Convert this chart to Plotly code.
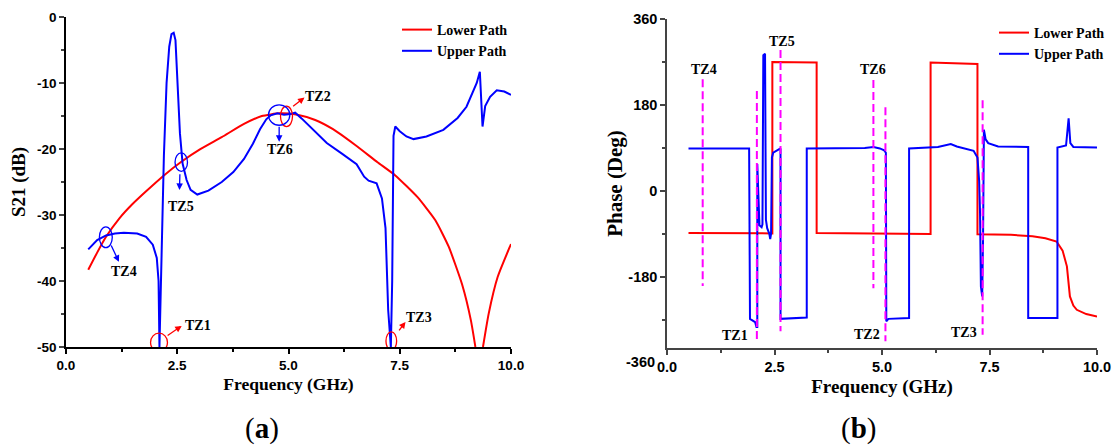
import plotly.graph_objects as go

# ---------------- Panel (a): S21 magnitude (dB) ----------------
freq_lower_a = [0.5, 0.7, 0.9, 1.2, 1.5, 1.8, 2.2, 2.6, 3.0, 3.5, 4.0, 4.4, 4.8, 5.2, 5.6,
                6.0, 6.5, 7.0, 7.4, 7.9, 8.3, 8.6, 8.9, 9.1, 9.2,
                None, 9.37, 9.5, 9.7, 10.0]
s21_lower = [-38.3, -35.7, -33.3, -30.5, -28.3, -26.4, -24.0, -21.9, -20.1, -18.2, -16.2, -15.0,
             -14.6, -14.8, -15.6, -17.0, -19.4, -22.0, -24.0, -27.3, -30.8, -34.8, -40.5, -46.0, -50.0,
             None, -50.0, -44.9, -39.4, -34.4]

freq_upper_a = [0.5, 0.7, 0.9, 1.1, 1.3, 1.6, 1.8, 1.95, 2.04, 2.08, 2.1, 2.13, 2.16, 2.2, 2.26,
                2.32, 2.37, 2.42, 2.46, 2.51, 2.56, 2.62, 2.71, 2.8, 2.95, 3.2, 3.5, 3.76, 4.0,
                4.2, 4.36, 4.5, 4.6, 4.75, 4.9, 5.05, 5.15, 5.3, 5.6, 5.86, 6.2, 6.53, 6.7, 6.8,
                6.98, 7.1, 7.18, 7.24, 7.3, 7.33, 7.36, 7.4, 7.5, 7.65, 7.81, 8.1, 8.48, 8.8,
                9.0, 9.23, 9.3, 9.33, 9.36, 9.42, 9.53, 9.68, 9.85, 10.0]
s21_upper = [-35.2, -33.8, -33.1, -32.8, -32.7, -32.8, -33.3, -34.5, -36.5, -40.0, -50.0, -40.0,
             -31.0, -21.0, -10.0, -4.5, -2.6, -2.4, -3.5, -10.0, -17.6, -22.2, -24.7, -26.2,
             -26.9, -26.3, -25.0, -23.5, -21.5, -19.2, -17.0, -15.5, -14.9, -14.6, -14.8, -14.7,
             -14.5, -15.4, -17.3, -19.1, -20.7, -22.3, -24.2, -24.8, -25.2, -27.5, -32.0, -44.4,
             -50.0, -40.0, -18.0, -16.6, -17.3, -18.1, -18.5, -18.1, -17.1, -15.3, -13.6, -10.0,
             -8.3, -12.0, -16.6, -13.5, -12.1, -11.1, -11.3, -11.8]

s21_tickvals = [0, -10, -20, -30, -40, -50]
s21_ticktext = ["0", "-10", "-20", "-30", "-40", "-50"]

# ---------------- Panel (b): phase (Deg) ----------------
freq_lower_b = [0.5, 2.45, 2.45, 3.48, 3.48, 5.0, 6.13, 6.13, 7.22, 7.22, 8.0, 8.5, 8.8, 9.06,
                9.2, 9.3, 9.37, 9.45, 9.53, 9.75, 10.0]
phase_lower = [-88, -89, 270, 269, -88, -89, -90, 269, 266, -91, -92, -95, -99, -106,
               -125, -158, -221, -240, -249, -258, -263]

freq_upper_b = [0.5, 1.91, 1.93, 2.05, 2.08, 2.10, 2.10, 2.13, 2.15, 2.20, 2.22, 2.24, 2.28,
                2.30, 2.33, 2.38, 2.40, 2.42, 2.44, 2.47, 2.55, 2.62, 2.64, 2.64, 3.25, 3.25,
                4.6, 4.8, 4.95, 5.05, 5.09, 5.10, 5.15, 5.63, 5.63, 6.3, 6.5, 6.6, 6.74, 7.0,
                7.13, 7.22, 7.26, 7.28, 7.30, 7.33, 7.35, 7.37, 7.41, 7.47, 7.7, 8.4, 8.4,
                9.08, 9.08, 9.28, 9.34, 9.38, 9.45, 10.0]
phase_upper = [89, 89, -268, -275, -285, -285, 56, -55, -72, -76, -70, 284, 287,
               -60, -78, -90, -101, -90, 70, 80, 85, 89, 89, -268, -265, 89,
               90, 92, 89, 85, 80, -273, -268, -266, 89, 92, 96, 98, 93, 88,
               84, 70, 20, -46, -200, -221, -100, 128, 108, 100, 93, 92, -266,
               -266, 91, 95, 152, 100, 92, 91]

phase_tickvals = [360, 180, 0, -180]
phase_ticktext = ["360", "180", "0", "-180"]

# transmission-zero marker lines in panel (b)
tz_line_freq = [0.83, 2.09, 2.64, 4.80, 5.08, 7.34]
tz_line_top = [234, 209, 295, 232, 175, 190]
tz_line_bottom = [-199, -312, -294, -204, -315, -301]

RED = "#ff0000"
BLUE = "#0000ff"
MAGENTA = "#ff00ff"
SERIF = "Liberation Serif"
SANS = "Liberation Sans"

# The page body has an 8 px margin; the figure is 8 px smaller so it fills the window.
W, H = 1112, 440
ML, MR, MT, MB = 58, 23, 9, 100
PW = W - ML - MR   # 1031
PH = H - MT - MB   # 331
OFF = 8

def px_x(p):   # reference pixel x -> paper x
    return (p - OFF - ML) / PW

def px_y(p):   # reference pixel y -> paper y
    return (H - MB - (p - OFF)) / PH

fig = go.Figure()

fig.add_trace(go.Scatter(x=freq_lower_a, y=s21_lower, mode="lines", name="Lower Path",
                         line=dict(color=RED, width=2, shape="spline", smoothing=0.5),
                         legend="legend"))
fig.add_trace(go.Scatter(x=freq_upper_a, y=s21_upper, mode="lines", name="Upper Path",
                         line=dict(color=BLUE, width=2), legend="legend"))

fig.add_trace(go.Scatter(x=freq_lower_b, y=phase_lower, mode="lines", name="Lower Path",
                         line=dict(color=RED, width=2), xaxis="x2", yaxis="y2", legend="legend2"))
fig.add_trace(go.Scatter(x=freq_upper_b, y=phase_upper, mode="lines", name="Upper Path",
                         line=dict(color=BLUE, width=2), xaxis="x2", yaxis="y2", legend="legend2"))

dx, dy = [], []
for f, t, b in zip(tz_line_freq, tz_line_top, tz_line_bottom):
    dx += [f, f, None]
    dy += [t, b, None]
fig.add_trace(go.Scatter(x=dx, y=dy, mode="lines", showlegend=False,
                         line=dict(color=MAGENTA, width=2, dash="8px,4px"),
                         xaxis="x2", yaxis="y2", hoverinfo="skip"))

tickfont_a = dict(family=SANS, size=13.5, color="black", weight="bold")
tickfont_b = dict(family=SANS, size=14.5, color="black", weight="bold")

def tfont(size):
    return dict(family=SERIF, size=size, color="black", weight="bold")

def xaxis_cfg(domain, anchor, linecolor, tickfont, titlesize):
    return dict(domain=domain, anchor=anchor, range=[0, 10], dtick=2.5, tick0=0, tickformat=".1f",
                showgrid=False, zeroline=False, showline=True, linecolor=linecolor, linewidth=1.5,
                ticks="outside", ticklen=5, tickwidth=1.5, tickcolor=linecolor, tickfont=tickfont,
                minor=dict(ticks="outside", ticklen=3, dtick=1.25, tickcolor=linecolor, tickwidth=1.5),
                title=dict(text="Frequency (GHz)", font=tfont(titlesize), standoff=6))

fig.update_layout(
    width=W, height=H,
    margin=dict(l=ML, r=MR, t=MT, b=MB, autoexpand=False),
    paper_bgcolor="white", plot_bgcolor="white",
    xaxis=xaxis_cfg([0, 445 / PW], "y", "black", tickfont_a, 17.5),
    yaxis=dict(domain=[1 / PH, 1.0], anchor="x", range=[-50, 0],
               tickvals=s21_tickvals, ticktext=s21_ticktext,
               showgrid=False, zeroline=False, showline=True, linecolor="black", linewidth=1.5,
               ticks="outside", ticklen=5, tickwidth=1.5, tickfont=tickfont_a,
               minor=dict(ticks="outside", ticklen=3, dtick=5, tick0=0, tickwidth=1.5),
               title=dict(text="S21 (dB)", font=tfont(19), standoff=11)),
    xaxis2=xaxis_cfg([601 / PW, 1.0], "y2", "#444444", tickfont_b, 19),
    yaxis2=dict(domain=[0.0, 329 / PH], anchor="x2", range=[-329, 360],
                tickvals=phase_tickvals, ticktext=phase_ticktext,
                showgrid=False, zeroline=False, showline=True, linecolor="#444444", linewidth=1.5,
                ticks="outside", ticklen=5, tickwidth=1.5, tickcolor="#444444", tickfont=tickfont_b,
                minor=dict(ticks="outside", ticklen=3, tickvals=[270, 90, -90, -270],
                           tickcolor="#444444", tickwidth=1.5),
                title=dict(text="Phase (Deg)", font=tfont(21), standoff=0)),
    legend=dict(xref="paper", yref="paper", x=px_x(397), y=px_y(14),
                xanchor="left", yanchor="top", bgcolor="rgba(0,0,0,0)",
                font=dict(family=SERIF, size=14, color="black", weight="bold"),
                tracegroupgap=0, itemwidth=30),
    legend2=dict(xref="paper", yref="paper", x=px_x(994), y=px_y(17),
                 xanchor="left", yanchor="top", bgcolor="rgba(0,0,0,0)",
                 font=dict(family=SERIF, size=14, color="black", weight="bold"),
                 tracegroupgap=0, itemwidth=30),
)

labfont = dict(family=SERIF, size=14, color="black", weight="bold")
annotations = []
shapes = []

# Panel (a) ellipses: (x0, x1, y0, y1, color)
ellipses_a = [
    (1.90, 2.28, -50.7, -47.9, RED),     # TZ1
    (7.19, 7.43, -50.5, -47.7, RED),     # TZ3
    (4.82, 5.09, -16.6, -13.5, RED),     # TZ2
    (4.55, 5.03, -16.4, -13.3, BLUE),    # TZ6
    (2.45, 2.73, -23.4, -20.6, BLUE),    # TZ5
    (0.75, 1.04, -34.95, -31.8, BLUE),   # TZ4
]
for x0, x1, y0, y1, c in ellipses_a:
    shapes.append(dict(type="circle", xref="x", yref="y", x0=x0, x1=x1, y0=y0, y1=y1,
                       line=dict(color=c, width=1.3)))

# arrows panel (a): head (x,y), tail (ax, ay), color
arrows_a = [
    (2.60, -46.8, 2.25, -48.4, RED),
    (7.63, -46.2, 7.46, -47.7, RED),
    (5.36, -12.2, 5.07, -13.7, RED),
    (4.79, -18.9, 4.79, -16.4, BLUE),
    (2.55, -26.2, 2.56, -23.6, BLUE),
    (1.19, -37.1, 1.00, -34.4, BLUE),
]
for x, y, ax, ay, c in arrows_a:
    annotations.append(dict(x=x, y=y, ax=ax, ay=ay, xref="x", yref="y", axref="x", ayref="y",
                            text="", showarrow=True, arrowhead=2, arrowsize=1, arrowwidth=1.3,
                            arrowcolor=c))

labels_a = [
    ("TZ1", 2.63, -46.7, "left"),
    ("TZ3", 7.60, -45.6, "left"),
    ("TZ2", 5.33, -12.1, "left"),
    ("TZ6", 4.82, -20.05, "center"),
    ("TZ5", 2.58, -28.7, "center"),
    ("TZ4", 1.30, -38.5, "center"),
]
for t, x, y, anc in labels_a:
    annotations.append(dict(x=x, y=y, xref="x", yref="y", text=t, showarrow=False,
                            xanchor=anc, yanchor="middle", font=labfont))

labels_b = [
    ("TZ4", 0.86, 255), ("TZ5", 2.67, 312), ("TZ6", 4.79, 255),
    ("TZ1", 1.59, -303), ("TZ2", 4.65, -301), ("TZ3", 6.91, -297),
]
for t, x, y in labels_b:
    annotations.append(dict(x=x, y=y, xref="x2", yref="y2", text=t, showarrow=False,
                            xanchor="center", yanchor="middle", font=labfont))

# extra -360 tick label at the bottom of the phase axis
annotations.append(dict(x=px_x(657), y=px_y(362), xref="paper", yref="paper", text="-360",
                        showarrow=False, xanchor="right", yanchor="middle", font=tickfont_b))

# panel captions
annotations.append(dict(x=px_x(262), y=px_y(428), xref="paper", yref="paper",
                        text="(<b>a</b>)", showarrow=False, xanchor="center", yanchor="middle",
                        font=dict(family=SERIF, size=29, color="black")))
annotations.append(dict(x=px_x(858), y=px_y(428), xref="paper", yref="paper",
                        text="(<b>b</b>)", showarrow=False, xanchor="center", yanchor="middle",
                        font=dict(family=SERIF, size=29, color="black")))

fig.update_layout(annotations=annotations, shapes=shapes)

fig.write_html("out.html")
